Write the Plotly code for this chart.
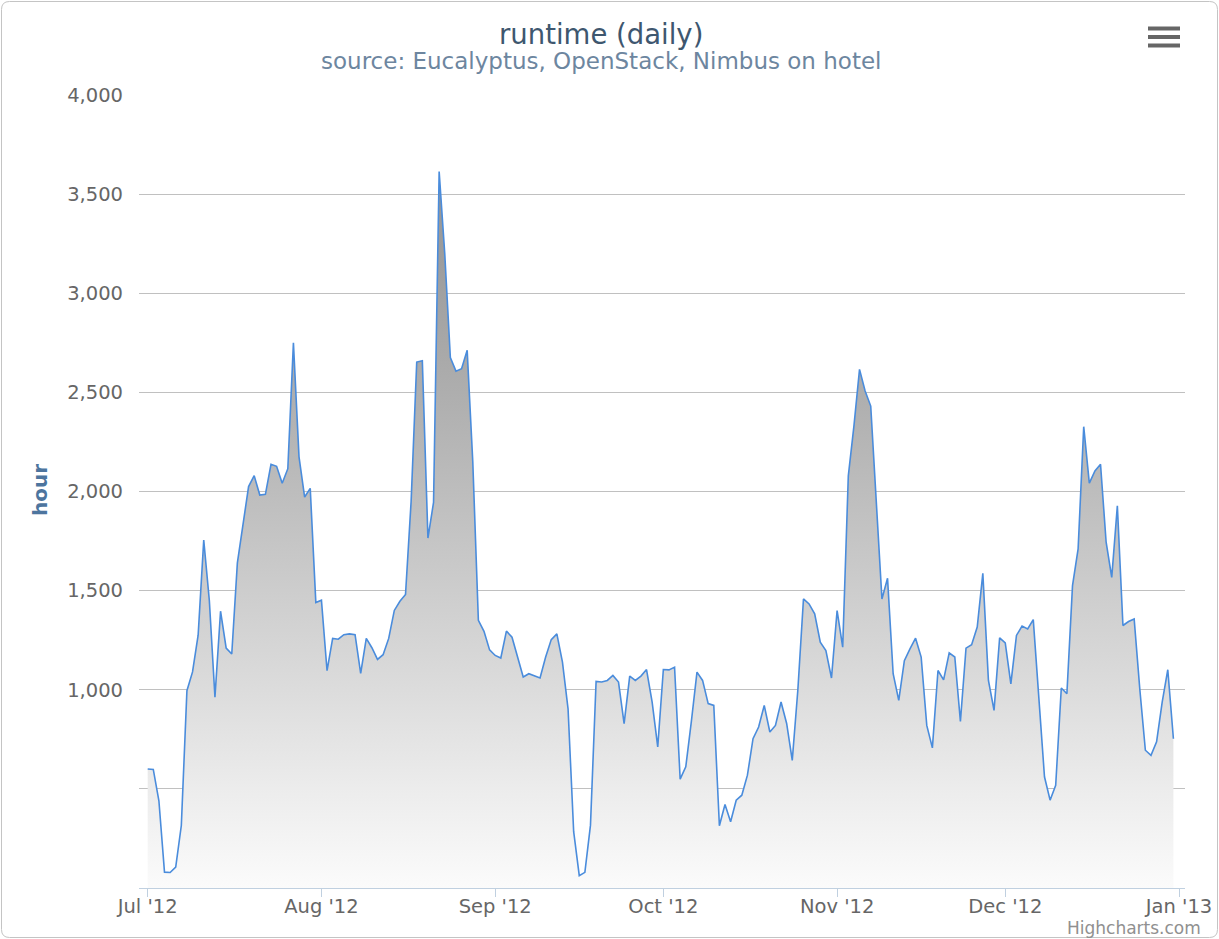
import pandas as pd
import plotly.graph_objects as go

# ---- data (hours per day) ----
jul = [600, 598, 440, 80, 78, 105, 315, 995, 1090, 1275, 1755, 1450, 962, 1396, 1210, 1180,
       1640, 1845, 2025, 2080, 1982, 1986, 2137, 2127, 2042, 2115, 2750, 2175, 1972, 2016, 1440]
aug = [1452, 1096, 1259, 1255, 1278, 1282, 1278, 1083, 1259, 1212, 1153, 1177, 1259, 1400, 1446, 1481,
       1950, 2653, 2660, 1765, 1945, 3614, 3200, 2676, 2607, 2619, 2712, 2150, 1350, 1295, 1201]
sep = [1173, 1160, 1296, 1265, 1165, 1064, 1081, 1072, 1059, 1165, 1253, 1282, 1139, 904, 284,
       62, 79, 317, 1042, 1039, 1047, 1072, 1039, 829, 1069, 1047, 1069, 1102, 938, 712]
oct_ = [1102, 1100, 1114, 549, 611, 840, 1089, 1047, 930, 921, 314, 421, 334, 443, 468, 569,
        753, 812, 921, 787, 820, 938, 830, 644, 1000, 1458, 1433, 1383, 1240, 1198, 1059]
nov = [1399, 1215, 2079, 2330, 2616, 2507, 2431, 1970, 1458, 1562, 1081, 946, 1147, 1206, 1260,
       1165, 820, 707, 1097, 1050, 1186, 1165, 840, 1210, 1227, 1316, 1587, 1047, 896, 1262]
dec = [1236, 1030, 1274, 1321, 1307, 1354, 960, 561, 443, 518, 1009, 980, 1525, 1710, 2327, 2042,
       2104, 2137, 1744, 1567, 1928, 1324, 1344, 1357, 1005, 695, 669, 737, 938, 1101, 753]

start_date = "2012-07-01"
y_tickvals = [500, 1000, 1500, 2000, 2500, 3000, 3500, 4000]
y_ticktext = ["", "1,000", "1,500", "2,000", "2,500", "3,000", "3,500", "4,000"]

values = jul + aug + sep + oct_ + nov + dec
dates = pd.date_range(start_date, periods=len(values), freq="D")

# ---- layout geometry (pixels) ----
W, H = 1219, 939
L, R, T, B = 139, 34, 95, 51
PW, PH = W - L - R, H - T - B


def px(x):
    return (x - L) / PW


def py(y):
    return (H - B - y) / PH


FONT = "DejaVu Sans"

fig = go.Figure()
fig.add_trace(go.Scatter(
    x=dates, y=values, mode="lines",
    line=dict(color="#4a8cdc", width=1.6),
    fill="tozeroy",
    fillgradient=dict(
        type="vertical", start=0, stop=4000,
        colorscale=[[0.0, "#fbfbfb"], [0.125, "#ececec"], [0.25, "#dcdcdc"],
                    [0.375, "#cdcdcd"], [0.5, "#bdbdbd"], [0.625, "#aeaeae"],
                    [0.75, "#a1a1a1"], [0.875, "#969696"], [1.0, "#8c8c8c"]],
    ),
    hoverinfo="x+y", showlegend=False,
))

x0 = pd.Timestamp("2012-07-01") - pd.Timedelta(days=1.55)
x1 = pd.Timestamp("2013-01-01") + pd.Timedelta(days=1.07)

fig.update_layout(
    width=W, height=H, autosize=False,
    margin=dict(l=L, r=R, t=T, b=B, pad=0, autoexpand=False),
    paper_bgcolor="white", plot_bgcolor="white",
    font=dict(family=FONT, color="#666666"),
    showlegend=False,
    xaxis=dict(
        type="date", range=[x0, x1], automargin=False,
        tick0=start_date, dtick="M1", tickformat="%b '%y",
        ticks="outside", ticklen=8, tickwidth=1, tickcolor="#C0D0E0",
        ticklabelstandoff=-7,
        showline=True, linecolor="#C0D0E0", linewidth=1,
        showgrid=False, zeroline=False,
        tickfont=dict(family=FONT, size=19.5, color="#666666"),
    ),
    yaxis=dict(
        range=[0, 4000], tickmode="array", tickvals=y_tickvals, ticktext=y_ticktext,
        automargin=False,
        showgrid=True, gridcolor="#C0C0C0", gridwidth=1,
        zeroline=False, showline=False, ticks="",
        ticklabelstandoff=15,
        tickfont=dict(family=FONT, size=19.5, color="#666666"),
    ),
)

# border (rounded)
bx0, by0, bx1, by1, r = 1.5, 1.5, 1217.5, 937.5, 8


def P(x, y):
    return f"{px(x):.6f},{py(y):.6f}"


path = (f"M {P(bx0 + r, by0)} L {P(bx1 - r, by0)} Q {P(bx1, by0)} {P(bx1, by0 + r)} "
        f"L {P(bx1, by1 - r)} Q {P(bx1, by1)} {P(bx1 - r, by1)} "
        f"L {P(bx0 + r, by1)} Q {P(bx0, by1)} {P(bx0, by1 - r)} "
        f"L {P(bx0, by0 + r)} Q {P(bx0, by0)} {P(bx0 + r, by0)} Z")
fig.add_shape(type="path", path=path, xref="paper", yref="paper",
              line=dict(color="#c4c4c4", width=1), layer="above")

# menu icon
for yy in (28.5, 37, 45.5):
    fig.add_shape(type="line", xref="paper", yref="paper",
                  x0=px(1148), x1=px(1180), y0=py(yy), y1=py(yy),
                  line=dict(color="#666666", width=4))

# titles
fig.add_annotation(text="runtime (daily)", xref="paper", yref="paper",
                   x=px(601), y=py(34), xanchor="center", yanchor="middle",
                   showarrow=False, font=dict(family=FONT, size=27.5, color="#3E576F"))
fig.add_annotation(text="source: Eucalyptus, OpenStack, Nimbus on hotel", xref="paper", yref="paper",
                   x=px(601), y=py(61), xanchor="center", yanchor="middle",
                   showarrow=False, font=dict(family=FONT, size=23, color="#6D869F"))
fig.add_annotation(text="<b>hour</b>", xref="paper", yref="paper",
                   x=px(40), y=py(490), xanchor="center", yanchor="middle", textangle=-90,
                   showarrow=False, font=dict(family=FONT, size=20, color="#4D759E"))
fig.add_annotation(text="Highcharts.com", xref="paper", yref="paper",
                   x=px(1203), y=py(928), xanchor="right", yanchor="middle",
                   showarrow=False, font=dict(family=FONT, size=17, color="#909090"))

post = ("document.documentElement.style.margin='0';document.documentElement.style.overflow='hidden';"
        "document.body.style.margin='0';document.body.style.padding='0';document.body.style.overflow='hidden';")
fig.write_html("out.html", config={"displayModeBar": False}, post_script=post)
